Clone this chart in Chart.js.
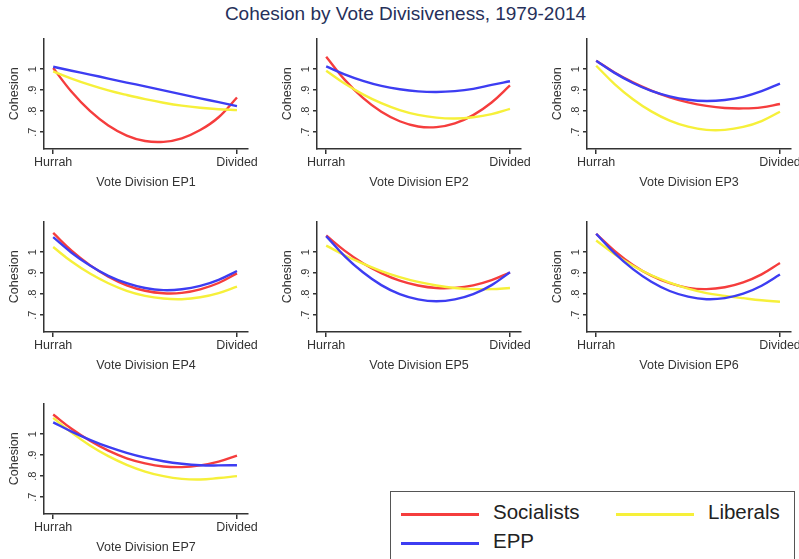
<!DOCTYPE html>
<html>
<head>
<meta charset="utf-8">
<script src="https://cdn.jsdelivr.net/npm/chart.js@4"></script>
<style>
  html, body { margin: 0; padding: 0; background: #fff; overflow: hidden; }
  body { width: 799px; height: 559px; position: relative; font-family: "Liberation Sans", Arial, sans-serif; }
  #title { position: absolute; left: 6px; top: 3px; width: 799px; text-align: center; font-size: 19px; color: #26305a; }
  canvas { position: absolute; }
  #legend { position: absolute; left: 390px; top: 491px; width: 405px; height: 90px; border: 1.5px solid #555; box-sizing: border-box; }
  .item { position: absolute; font-size: 20.5px; color: #222; }
  .swatch { position: absolute; height: 2.5px; width: 78px; }
</style>
</head>
<body>
<div id="title">Cohesion by Vote Divisiveness, 1979-2014</div>
<div id="legend"></div>
<script>
// x positions along the vote division axis (0 = Hurrah, 1 = Divided)
const xPositions = [0, 0.1, 0.2, 0.3, 0.4, 0.5, 0.6, 0.7, 0.8, 0.9, 1];
const xTickLabels = ["Hurrah", "Divided"];
const yTicks = [0.7, 0.8, 0.9, 1];
const yTickLabels = [".7", ".8", ".9", "1"];
const panelTitles = ["Vote Division EP1", "Vote Division EP2", "Vote Division EP3",
                     "Vote Division EP4", "Vote Division EP5", "Vote Division EP6", "Vote Division EP7"];

// one row per parliament EP1..EP7
const socialists = [
  [1.005, .892, .801, .732, .684, .658, .654, .671, .710, .771, .865],
  [1.059, .950, .863, .797, .752, .727, .724, .742, .781, .841, .922],
  [1.040, .984, .937, .898, .866, .842, .825, .815, .813, .818, .834],
  [1.091, 1.007, .938, .883, .842, .816, .804, .806, .823, .853, .899],
  [1.079, 1.007, .947, .900, .864, .841, .829, .830, .842, .867, .903],
  [1.087, 1.006, .939, .888, .852, .830, .824, .833, .856, .894, .948],
  [1.093, 1.025, .968, .921, .885, .861, .846, .843, .851, .869, .898]
];
const liberals = [
  [.989, .955, .925, .899, .877, .857, .840, .826, .816, .809, .805],
  [.992, .931, .880, .838, .805, .782, .769, .765, .771, .786, .811],
  [1.016, .929, .857, .799, .755, .726, .711, .711, .725, .753, .797],
  [1.024, .955, .898, .852, .816, .792, .779, .776, .785, .805, .836],
  [1.031, .985, .945, .910, .881, .858, .841, .829, .824, .824, .829],
  [1.055, .990, .935, .890, .855, .826, .805, .792, .781, .771, .764],
  [1.077, 1.007, .946, .895, .854, .822, .800, .787, .784, .791, .800]
];
const epp = [
  [1.011, .992, .974, .955, .936, .918, .899, .880, .861, .843, .824],
  [1.013, .975, .944, .920, .904, .894, .891, .895, .906, .925, .942],
  [1.040, .982, .934, .896, .870, .854, .848, .853, .868, .895, .931],
  [1.071, .997, .936, .887, .852, .829, .819, .823, .839, .868, .910],
  [1.076, .981, .904, .843, .800, .775, .766, .775, .800, .843, .904],
  [1.087, .995, .919, .859, .815, .788, .776, .781, .802, .840, .893],
  [1.056, 1.012, .973, .939, .911, .888, .871, .859, .852, .851, .852]
];

const seriesNames = ["Socialists", "Liberals", "EPP"];
const seriesColors = ["#f53d3d", "#f6f03a", "#3d3df2"];

const panelLeft = [0, 273, 543];
const panelTop = [30, 213, 395];
const textColor = "#333";
const fontFamily = "'Liberation Sans', Arial, sans-serif";

function pts(arr) {
  return arr.map((v, i) => ({ x: xPositions[i], y: v }));
}

for (let p = 0; p < 7; p++) {
  const cv = document.createElement("canvas");
  cv.width = 265;
  cv.height = 163;
  cv.style.left = panelLeft[p % 3] + "px";
  cv.style.top = panelTop[Math.floor(p / 3)] + "px";
  document.body.appendChild(cv);

  const line = (data, ci) => ({
    label: seriesNames[ci],
    data: pts(data),
    borderColor: seriesColors[ci],
    borderWidth: 2.4,
    pointRadius: 0,
    tension: 0.4,
    fill: false
  });

  new Chart(cv, {
    type: "line",
    data: {
      datasets: [line(epp[p], 2), line(liberals[p], 1), line(socialists[p], 0)]
    },
    options: {
      responsive: false,
      animation: false,
      layout: { padding: { top: 7, right: 17, left: 0, bottom: 0 } },
      plugins: { legend: { display: false }, tooltip: { enabled: false } },
      scales: {
        x: {
          type: "linear",
          min: -0.05,
          max: 1.06,
          afterBuildTicks: s => { s.ticks = [{ value: 0 }, { value: 1 }]; },
          afterFit: s => { s.height = 44; },
          grid: { drawOnChartArea: false, tickLength: 5, color: textColor, lineWidth: 1.5 },
          border: { color: textColor, width: 1.5 },
          ticks: {
            color: textColor,
            font: { family: fontFamily, size: 12.5 },
            padding: 1,
            maxRotation: 0,
            callback: v => v === 0 ? xTickLabels[0] : (v === 1 ? xTickLabels[1] : "")
          },
          title: {
            display: true,
            text: panelTitles[p],
            color: textColor,
            font: { family: fontFamily, size: 12.5 },
            padding: { top: 0, bottom: 3 }
          }
        },
        y: {
          min: 0.62,
          max: 1.145,
          afterBuildTicks: s => { s.ticks = yTicks.map(v => ({ value: v })); },
          afterFit: s => { s.width = 44; },
          grid: { drawOnChartArea: false, tickLength: 4, color: textColor, lineWidth: 1.5 },
          border: { color: textColor, width: 1.5 },
          ticks: {
            color: textColor,
            font: { family: fontFamily, size: 11 },
            padding: 2,
            minRotation: 90,
            maxRotation: 90,
            crossAlign: "center",
            callback: v => yTickLabels[yTicks.findIndex(t => Math.abs(t - v) < 1e-6)]
          },
          title: {
            display: true,
            text: "Cohesion",
            color: textColor,
            font: { family: fontFamily, size: 12.5 },
            padding: { top: 7, bottom: 0 }
          }
        }
      }
    }
  });
}

// legend box
const legend = document.getElementById("legend");
const legendPos = [
  { sx: 10, tx: 102, y: 21 },   // Socialists
  { sx: 225, tx: 317, y: 21 },  // Liberals
  { sx: 10, tx: 102, y: 50 }    // EPP
];
seriesNames.forEach((name, i) => {
  const sw = document.createElement("div");
  sw.className = "swatch";
  sw.style.left = legendPos[i].sx + "px";
  sw.style.top = legendPos[i].y + "px";
  sw.style.background = seriesColors[i];
  legend.appendChild(sw);
  const t = document.createElement("div");
  t.className = "item";
  t.textContent = name;
  t.style.left = legendPos[i].tx + "px";
  t.style.top = (legendPos[i].y - 13) + "px";
  legend.appendChild(t);
});
</script>
</body>
</html>
